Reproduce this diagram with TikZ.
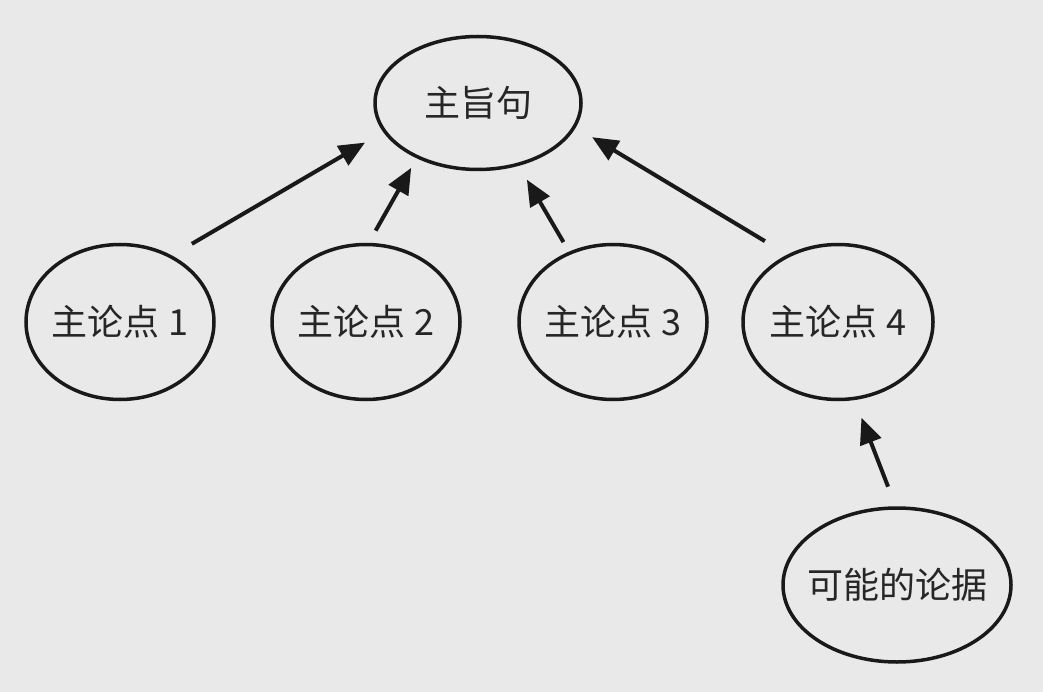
\documentclass[tikz,border=0pt]{standalone}
\usepackage{fontspec}
\setmainfont{Noto Sans CJK SC}
\usetikzlibrary{arrows.meta,shapes.geometric}
\definecolor{paper}{HTML}{E9E9E9}
\tikzset{
  idea/.style={ellipse, draw=black!90, line width=3.5pt, inner sep=0pt,
    font=\fontsize{36}{44}\selectfont, text=black!85},
  link/.style={-{Triangle[length=26pt,width=22pt]}, line width=4pt, draw=black!90}
}
\begin{document}
\begin{tikzpicture}[x=1pt, y=-1pt]
\fill [paper] (0,0) rectangle (1043,692); % bounding box
\node [idea, minimum width=206pt, minimum height=133pt] (top) at (478,103) {主旨句};
\node [idea, inner xsep=-2pt, minimum width=188pt, minimum height=155pt] (pt1) at (120,322) {主论点 1};
\node [idea, inner xsep=-2pt, minimum width=188pt, minimum height=155pt] (pt2) at (366,322) {主论点 2};
\node [idea, inner xsep=-2pt, minimum width=188pt, minimum height=155pt] (pt3) at (613,322) {主论点 3};
\node [idea, inner xsep=-2pt, minimum width=190pt, minimum height=155pt] (pt4) at (838,322) {主论点 4};
\node [idea, inner xsep=-10pt, minimum width=228pt, minimum height=154pt] (proof) at (897,585) {可能的论据};
\draw [link, shorten <=23pt, shorten >=21pt] (pt1.52) -- (top.197);
\draw [link, shorten <=14pt, shorten >=11pt] (pt2.88) -- (top.222);
\draw [link, shorten <=11pt, shorten >=16pt] (pt3.122) -- (top.303);
\draw [link, shorten <=26pt, shorten >=19pt] (pt4.127) -- (top.346);
\draw [link, shorten <=21pt, shorten >=19pt] (proof.91) -- (pt4.282);
\end{tikzpicture}
\end{document}
